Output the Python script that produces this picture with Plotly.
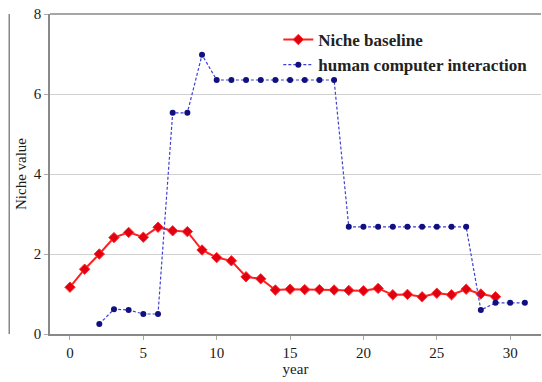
import plotly.graph_objects as go

years_baseline = list(range(0, 30))
niche_baseline = [1.17, 1.62, 2.0, 2.41, 2.54, 2.42, 2.67, 2.58, 2.56, 2.1,
                  1.91, 1.83, 1.43, 1.38, 1.1, 1.12, 1.11, 1.11, 1.1, 1.09,
                  1.08, 1.14, 0.98, 0.99, 0.93, 1.02, 0.98, 1.12, 1.0, 0.93]

years_hci = list(range(2, 32))
niche_hci = [0.25, 0.62, 0.6, 0.5, 0.5, 5.53, 5.53, 6.98, 6.35, 6.35,
             6.35, 6.35, 6.35, 6.35, 6.35, 6.35, 6.35, 2.68, 2.68, 2.68,
             2.68, 2.68, 2.68, 2.68, 2.68, 2.68, 0.6, 0.78, 0.78, 0.78]

x_ticks = [0, 5, 10, 15, 20, 25, 30]
y_ticks = [0, 2, 4, 6, 8]

SERIF = "Liberation Serif, Times New Roman, serif"

fig = go.Figure()
fig.add_trace(go.Scatter(
    x=years_baseline, y=niche_baseline, mode="lines+markers",
    name="Niche baseline",
    line=dict(color="#ff2020", width=2),
    marker=dict(symbol="diamond", size=8, color="#e00010",
                line=dict(color="#ff3030", width=1)),
))
fig.add_trace(go.Scatter(
    x=years_hci, y=niche_hci, mode="lines+markers",
    name="human computer interaction",
    line=dict(color="#4040d0", width=1.2, dash="3px,2px"),
    marker=dict(symbol="circle", size=6, color="#101080"),
))

fig.add_shape(type="line", xref="paper", yref="paper",
              x0=-0.083, x1=-0.083, y0=0.0, y1=1.0,
              line=dict(color="#888888", width=1.5))
fig.add_shape(type="line", xref="paper", yref="paper", x0=0, x1=1, y0=1, y1=1,
              line=dict(color="#888888", width=1.5))

fig.update_layout(
    width=542, height=382,
    margin=dict(l=50, r=1, t=14, b=48),
    plot_bgcolor="white", paper_bgcolor="white",
    font=dict(family=SERIF, size=15, color="#1a1a1a"),
    showlegend=True,
    legend=dict(x=0.465, y=0.975, xanchor="left", yanchor="top",
                bgcolor="rgba(0,0,0,0)",
                font=dict(family=SERIF, size=17, weight="bold", color="#222222"),
                tracegroupgap=0),
    xaxis=dict(range=[-1.36, 32.1], tickvals=x_ticks, showgrid=False,
               zeroline=False, showline=True, linecolor="#888888", linewidth=1.5,
               ticks="outside", ticklen=4, tickcolor="#aaaaaa",
               title=dict(text="year", standoff=2, font=dict(family=SERIF, size=15)),
               tickfont=dict(family=SERIF, size=15)),
    yaxis=dict(range=[0, 8], tickvals=y_ticks, showgrid=True, gridcolor="#d0d0d0",
               gridwidth=1, zeroline=False, showline=True, linecolor="#888888",
               linewidth=1.5, ticks="outside", ticklen=4, tickcolor="#aaaaaa",
               title=dict(text="Niche value", standoff=4, font=dict(family=SERIF, size=15)),
               tickfont=dict(family=SERIF, size=15)),
)

fig.write_html("out.html")
